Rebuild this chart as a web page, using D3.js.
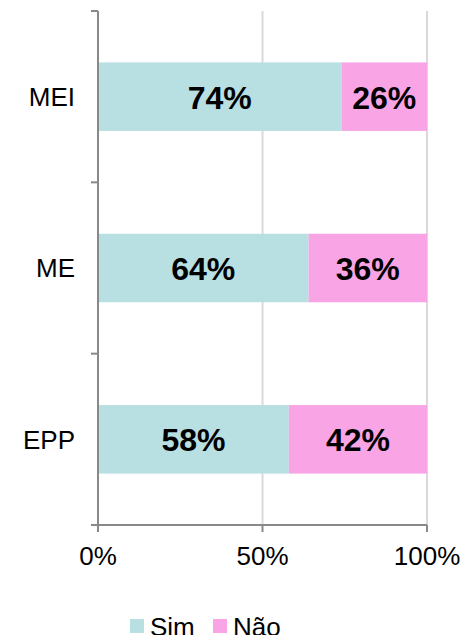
<!DOCTYPE html>
<html>
<head>
<meta charset="utf-8">
<script src="https://cdn.jsdelivr.net/npm/d3@7"></script>
<style>
  body { margin: 0; background: #fff; }
  svg { display: block; font-family: "Liberation Sans", Arial, sans-serif; }
</style>
</head>
<body>
<script>
var categories = ["MEI", "ME", "EPP"];
var simValues = [74, 64, 58];
var naoValues = [26, 36, 42];
var seriesNames = ["Sim", "Não"];
var seriesColors = ["#b8dfe2", "#f9a5e5"];
var xTicks = [0, 50, 100];

var width = 463, height = 635;
var plotLeft = 98, plotRight = 427, plotTop = 11, plotBottom = 525;

var svg = d3.select("body").append("svg")
    .attr("width", width)
    .attr("height", height);

var x = d3.scaleLinear().domain([0, 100]).range([plotLeft, plotRight]);
var y = d3.scaleBand().domain(categories).range([plotTop, plotBottom])
    .paddingInner(0.6).paddingOuter(0.3);

// gridlines
svg.selectAll("line.grid")
    .data(xTicks.slice(1))
    .enter().append("line")
    .attr("class", "grid")
    .attr("x1", function(d) { return x(d); })
    .attr("x2", function(d) { return x(d); })
    .attr("y1", plotTop)
    .attr("y2", plotBottom)
    .attr("stroke", "#d9d9d9")
    .attr("stroke-width", 2);

var rows = categories.map(function(c, i) {
    return { cat: c, vals: [simValues[i], naoValues[i]] };
});

rows.forEach(function(r) {
    var x0 = 0;
    r.vals.forEach(function(v, j) {
        svg.append("rect")
            .attr("x", x(x0))
            .attr("y", y(r.cat))
            .attr("width", x(x0 + v) - x(x0))
            .attr("height", y.bandwidth())
            .attr("fill", seriesColors[j]);
        svg.append("text")
            .attr("x", (x(x0) + x(x0 + v)) / 2)
            .attr("y", y(r.cat) + y.bandwidth() / 2)
            .attr("dy", "0.37em")
            .attr("text-anchor", "middle")
            .attr("font-size", 32)
            .attr("font-weight", "bold")
            .attr("fill", "#000")
            .text(v + "%");
        x0 += v;
    });
});

// category axis
var yAxis = svg.append("g");
yAxis.append("line")
    .attr("x1", plotLeft).attr("x2", plotLeft)
    .attr("y1", plotTop).attr("y2", plotBottom)
    .attr("stroke", "#898989").attr("stroke-width", 2);
var catTicks = [plotTop].concat(categories.slice(1).map(function(c) {
    return y(c) - y.step() * y.paddingInner() / 2;
}));
yAxis.selectAll("line.tick")
    .data(catTicks)
    .enter().append("line")
    .attr("x1", plotLeft - 7).attr("x2", plotLeft)
    .attr("y1", function(d) { return d; })
    .attr("y2", function(d) { return d; })
    .attr("stroke", "#898989").attr("stroke-width", 2);
yAxis.selectAll("text")
    .data(categories)
    .enter().append("text")
    .attr("x", 75)
    .attr("y", function(d) { return y(d) + y.bandwidth() / 2; })
    .attr("dy", "0.36em")
    .attr("text-anchor", "end")
    .attr("font-size", 26)
    .attr("fill", "#000")
    .text(function(d) { return d; });

// value axis
var xAxis = svg.append("g");
xAxis.append("line")
    .attr("x1", plotLeft - 7).attr("x2", plotRight)
    .attr("y1", plotBottom).attr("y2", plotBottom)
    .attr("stroke", "#898989").attr("stroke-width", 2);
xAxis.selectAll("line.tick")
    .data(xTicks)
    .enter().append("line")
    .attr("x1", function(d) { return x(d); })
    .attr("x2", function(d) { return x(d); })
    .attr("y1", plotBottom).attr("y2", plotBottom + 7)
    .attr("stroke", "#898989").attr("stroke-width", 2);
xAxis.selectAll("text")
    .data(xTicks)
    .enter().append("text")
    .attr("x", function(d) { return x(d); })
    .attr("y", 565)
    .attr("text-anchor", "middle")
    .attr("font-size", 26)
    .attr("fill", "#000")
    .text(function(d) { return d + "%"; });

// legend
var legendX = [130, 213];
var legend = svg.selectAll("g.legend")
    .data(seriesNames)
    .enter().append("g")
    .attr("class", "legend")
    .attr("transform", function(d, i) { return "translate(" + legendX[i] + ",619)"; });
legend.append("rect")
    .attr("width", 14).attr("height", 14)
    .attr("fill", function(d, i) { return seriesColors[i]; });
legend.append("text")
    .attr("x", 20)
    .attr("y", 17)
    .attr("font-size", 26)
    .attr("fill", "#000")
    .text(function(d) { return d; });
</script>
</body>
</html>
